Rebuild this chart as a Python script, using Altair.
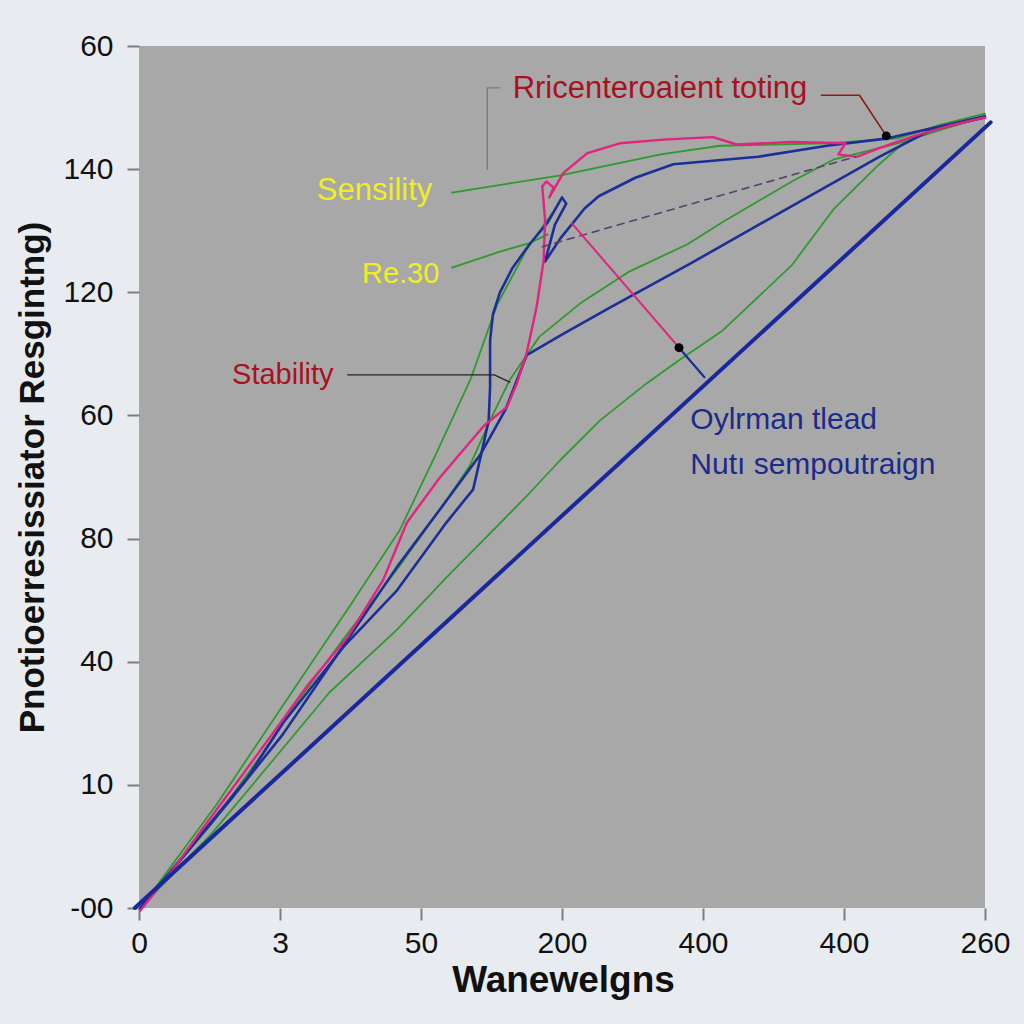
import json
import altair as alt
import pandas as pd

# ---------------- data (x, y in axis-tick units) ----------------
X_LABELS = ["0", "3", "50", "200", "400", "400", "260"]
Y_LABELS = ["-00", "10", "40", "80", "60", "120", "140", "60"]

diag_x = [-0.03, 6.04]
diag_y = [0.00, 6.38]

green_low_x = [0.01, 0.52, 0.95, 1.35, 1.83, 2.21, 2.54, 2.77, 2.99, 3.27, 3.60, 3.82, 4.14, 4.63, 4.93, 5.25, 5.45, 6.00]
green_low_y = [0.00, 0.61, 1.20, 1.75, 2.26, 2.72, 3.10, 3.37, 3.64, 3.96, 4.26, 4.44, 4.69, 5.22, 5.68, 6.04, 6.24, 6.43]

green_mid_x = [0.01, 0.52, 0.84, 1.12, 1.48, 1.83, 2.18, 2.35, 2.49, 2.63, 2.84, 3.13, 3.48, 3.89, 4.14, 4.63, 4.93, 5.38, 6.00]
green_mid_y = [0.00, 0.69, 1.20, 1.67, 2.23, 2.75, 3.31, 3.60, 3.96, 4.29, 4.64, 4.91, 5.17, 5.39, 5.57, 5.90, 6.08, 6.21, 6.43]

green_steep_x = [0.01, 0.55, 1.00, 1.50, 1.85, 2.12, 2.35, 2.54, 2.75, 2.96]
green_steep_y = [0.00, 0.84, 1.61, 2.46, 3.07, 3.72, 4.29, 4.90, 5.35, 5.69]

green_sens_x = [2.22, 2.99, 3.70, 4.12, 4.88, 5.38, 5.68, 6.00]
green_sens_y = [5.81, 5.95, 6.12, 6.19, 6.21, 6.25, 6.36, 6.45]

green_re_x = [2.22, 2.56, 2.77, 2.90]
green_re_y = [5.20, 5.33, 5.40, 5.47]

blue_hook_x = [0.01, 0.29, 0.77, 1.02, 1.45, 1.83, 2.18, 2.37, 2.43, 2.48, 2.49, 2.49, 2.51, 2.56, 2.65,
               2.77, 2.90, 3.00, 3.03, 2.95, 2.88, 2.99, 3.16, 3.26, 3.52, 3.79, 4.39, 4.88, 5.31, 6.00]
blue_hook_y = [0.00, 0.39, 1.06, 1.50, 2.12, 2.58, 3.13, 3.40, 3.70, 3.96, 4.23, 4.61, 4.82, 5.00, 5.20,
               5.39, 5.57, 5.77, 5.72, 5.55, 5.25, 5.44, 5.68, 5.78, 5.93, 6.04, 6.10, 6.19, 6.25, 6.43]

blue_mid_x = [0.01, 0.65, 1.02, 1.48, 1.83, 2.13, 2.42, 2.60, 2.75, 2.99, 3.33, 3.89, 4.63, 5.25, 5.62, 6.00]
blue_mid_y = [0.00, 0.88, 1.41, 2.18, 2.77, 3.23, 3.68, 4.05, 4.49, 4.65, 4.87, 5.22, 5.70, 6.10, 6.32, 6.42]

pink_x = [0.01, 0.24, 0.48, 0.72, 0.95, 1.19, 1.48, 1.73, 1.90, 2.13, 2.30, 2.45, 2.61, 2.68, 2.75, 2.82, 2.87, 2.88,
          2.86, 2.89, 2.94, 2.91, 3.01, 3.18, 3.41, 3.72, 4.07, 4.24, 4.63, 5.01, 4.96, 5.09, 5.25, 5.50, 5.74, 6.00]
pink_y = [-0.02, 0.31, 0.69, 1.06, 1.42, 1.80, 2.20, 2.66, 3.13, 3.49, 3.72, 3.92, 4.07, 4.26, 4.51, 4.88, 5.26, 5.59,
          5.86, 5.90, 5.85, 5.77, 5.97, 6.13, 6.21, 6.24, 6.26, 6.20, 6.22, 6.21, 6.12, 6.10, 6.17, 6.27, 6.35, 6.42]

pink_leader_x = [3.07, 3.83]
pink_leader_y = [5.56, 4.55]
blue_stub_x = [3.83, 4.01]
blue_stub_y = [4.55, 4.31]
dash_x = [2.86, 5.08]
dash_y = [5.37, 6.10]
red_leader_x = [4.84, 5.11, 5.30]
red_leader_y = [6.60, 6.60, 6.27]
bracket_x = [2.47, 2.47, 2.56]
bracket_y = [6.00, 6.66, 6.66]
stab_x = [1.48, 2.52, 2.63]
stab_y = [4.33, 4.33, 4.27]
dots_x = [3.83, 5.30]
dots_y = [4.55, 6.27]

ann_text = ["Rricenteroaient toting", "Sensility", "Re.30", "Stability", "Oylrman tlead", "Nutı sempoutraign"]
ann_x = [2.65, 2.08, 2.13, 1.38, 3.91, 3.91]
ann_y = [6.65, 5.82, 5.15, 4.33, 3.96, 3.60]

# ---------------- chart ----------------
FONT = "Liberation Sans"
xscale = alt.Scale(domain=[0, 6], nice=False, zero=False)
yscale = alt.Scale(domain=[0, 7], nice=False, zero=False)

xaxis = alt.Axis(
    values=list(range(len(X_LABELS))),
    labelExpr=f"{json.dumps(X_LABELS)}[round(datum.value)]",
    domain=False, grid=False, tickSize=12, tickWidth=2, tickColor="#7d7d7d",
    labelFont=FONT, labelFontSize=30, labelColor="#111111", labelPadding=8,
    labelFlush=False, labelOverlap=False, labelBound=False,
    title="Wanewelgns", titleFont=FONT, titleFontSize=37, titleFontWeight="bold",
    titleColor="#111111", titleX=424, titleY=72, titleAlign="center", titleBaseline="middle",
)
yaxis = alt.Axis(
    values=list(range(len(Y_LABELS))),
    labelExpr=f"{json.dumps(Y_LABELS)}[round(datum.value)]",
    domain=False, grid=False, tickSize=12, tickWidth=2, tickColor="#7d7d7d",
    labelFont=FONT, labelFontSize=30, labelColor="#111111", labelPadding=14,
    labelFlush=False, labelOverlap=False, labelBound=False,
    title="Pnotioerresissiator Resgintng)", titleFont=FONT, titleFontSize=35, titleFontWeight="bold",
    titleColor="#111111", titleX=-107, titleY=431, titleAlign="center", titleBaseline="middle",
)

X = alt.X("x:Q", scale=xscale, axis=xaxis)
Y = alt.Y("y:Q", scale=yscale, axis=yaxis)


def line(xs, ys, color, width, dash=None):
    df = pd.DataFrame({"x": xs, "y": ys, "i": list(range(len(xs)))})
    kw = dict(color=color, strokeWidth=width, clip=False, strokeCap="round", strokeJoin="round")
    if dash:
        kw["strokeDash"] = dash
    return alt.Chart(df).mark_line(**kw).encode(x=X, y=Y, order="i:Q")


GREEN = "#2e9a2e"
BLUE = "#1c2f98"
PINK = "#e2237f"

layers = [
    line(green_low_x, green_low_y, GREEN, 1.8),
    line(green_mid_x, green_mid_y, GREEN, 1.8),
    line(green_steep_x, green_steep_y, GREEN, 1.8),
    line(green_sens_x, green_sens_y, GREEN, 1.8),
    line(green_re_x, green_re_y, GREEN, 1.8),
    line(blue_mid_x, blue_mid_y, BLUE, 2.6),
    line(blue_hook_x, blue_hook_y, BLUE, 2.6),
    line(pink_x, pink_y, PINK, 2.4),
    line(dash_x, dash_y, "#5a3f6e", 1.6, dash=[7, 6]),
    line(pink_leader_x, pink_leader_y, PINK, 2.0),
    line(blue_stub_x, blue_stub_y, BLUE, 2.2),
    line(diag_x, diag_y, "#17299c", 4.0),
    line(red_leader_x, red_leader_y, "#8e1a1a", 1.6),
    line(bracket_x, bracket_y, "#7a7a7a", 1.4),
    line(stab_x, stab_y, "#222222", 1.3),
]

dots = alt.Chart(pd.DataFrame({"x": dots_x, "y": dots_y})).mark_circle(
    color="#000000", opacity=1, size=80
).encode(x=X, y=Y)
layers.append(dots)

text_styles = [
    dict(align="left", color="#a8111e", fontSize=31),
    dict(align="right", color="#f0ee22", fontSize=31),
    dict(align="right", color="#f0ee22", fontSize=29),
    dict(align="right", color="#a8111e", fontSize=29),
    dict(align="left", color="#1c2a8c", fontSize=30),
    dict(align="left", color="#1c2a8c", fontSize=30),
]
for t, tx, ty, st in zip(ann_text, ann_x, ann_y, text_styles):
    layers.append(
        alt.Chart(pd.DataFrame({"x": [tx], "y": [ty], "t": [t]})).mark_text(
            baseline="middle", font=FONT, **st
        ).encode(x=X, y=Y, text="t:N")
    )

chart = alt.layer(*layers).properties(
    width=846,
    height=862,
    background="#e8ecf0",
    autosize=alt.AutoSizeParams(type="none"),
    padding={"left": 139, "top": 46, "right": 39, "bottom": 116},
).configure_view(fill="#a8a8a8", strokeWidth=0)

chart.save("out.html", embed_options={"renderer": "svg", "actions": False})
